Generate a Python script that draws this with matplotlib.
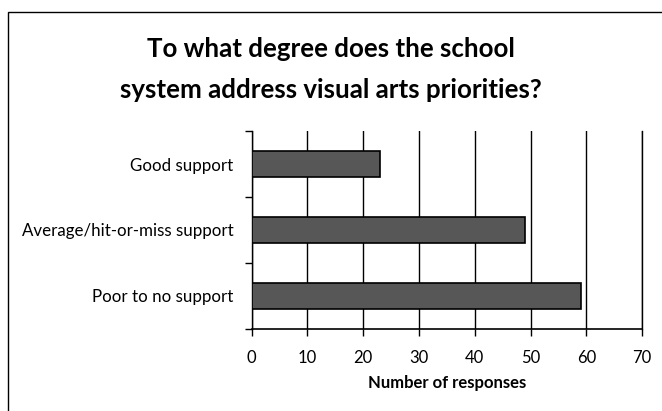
import matplotlib
matplotlib.use("Agg")
import matplotlib.pyplot as plt
from matplotlib.patches import Rectangle

# ── Data ──────────────────────────────────────────────────────────────────────
categories = ["Poor to no support", "Average/hit-or-miss support", "Good support"]
responses = [59, 49, 23]
x_ticks = [0, 10, 20, 30, 40, 50, 60, 70]

title = "To what degree does the school\nsystem address visual arts priorities?"
xlabel = "Number of responses"

plt.rcParams["font.family"] = ["Lato", "DejaVu Sans"]

fig = plt.figure(figsize=(6.62, 4.11), dpi=100)
ax = fig.add_axes([0.380, 0.200, 0.590, 0.481])

pos = list(range(len(categories)))
ax.barh(pos, responses, height=0.4, color="#575757", edgecolor="black",
        linewidth=1.2, zorder=3)

ax.set_xlim(0, 70)
ax.set_ylim(-0.5, len(categories) - 0.5)
ax.set_xticks(x_ticks)
ax.set_xticklabels([str(t) for t in x_ticks], fontsize=12)
ax.xaxis.grid(True, color="black", linewidth=1.0, zorder=1)

# category labels without tick marks, boundary ticks on the left
ax.set_yticks([p - 0.5 for p in pos] + [pos[-1] + 0.5])
ax.set_yticklabels([])
ax.set_yticks(pos, minor=True)
ax.set_yticklabels(categories, minor=True, fontsize=12.2)
ax.tick_params(axis="y", which="minor", length=0, pad=13)
ax.tick_params(axis="y", which="major", length=5, width=1.0, direction="out")
ax.tick_params(axis="x", length=5, width=1.0, direction="out", pad=10)

ax.spines["top"].set_visible(False)
ax.spines["right"].set_linewidth(1.0)
ax.spines["left"].set_linewidth(1.0)
ax.spines["bottom"].set_linewidth(1.2)

ax.set_xlabel(xlabel, fontsize=12, fontweight="bold", labelpad=7)

fig.text(0.50, 0.832, title, ha="center", va="center", fontsize=18.6,
         fontweight="bold", linespacing=1.85)

# outer frame around the whole chart
fig.patches.append(Rectangle((0.012, -0.01), 0.99, 0.98, transform=fig.transFigure,
                             fill=False, edgecolor="black", linewidth=1.0))

fig.savefig("out.png", dpi=100)
